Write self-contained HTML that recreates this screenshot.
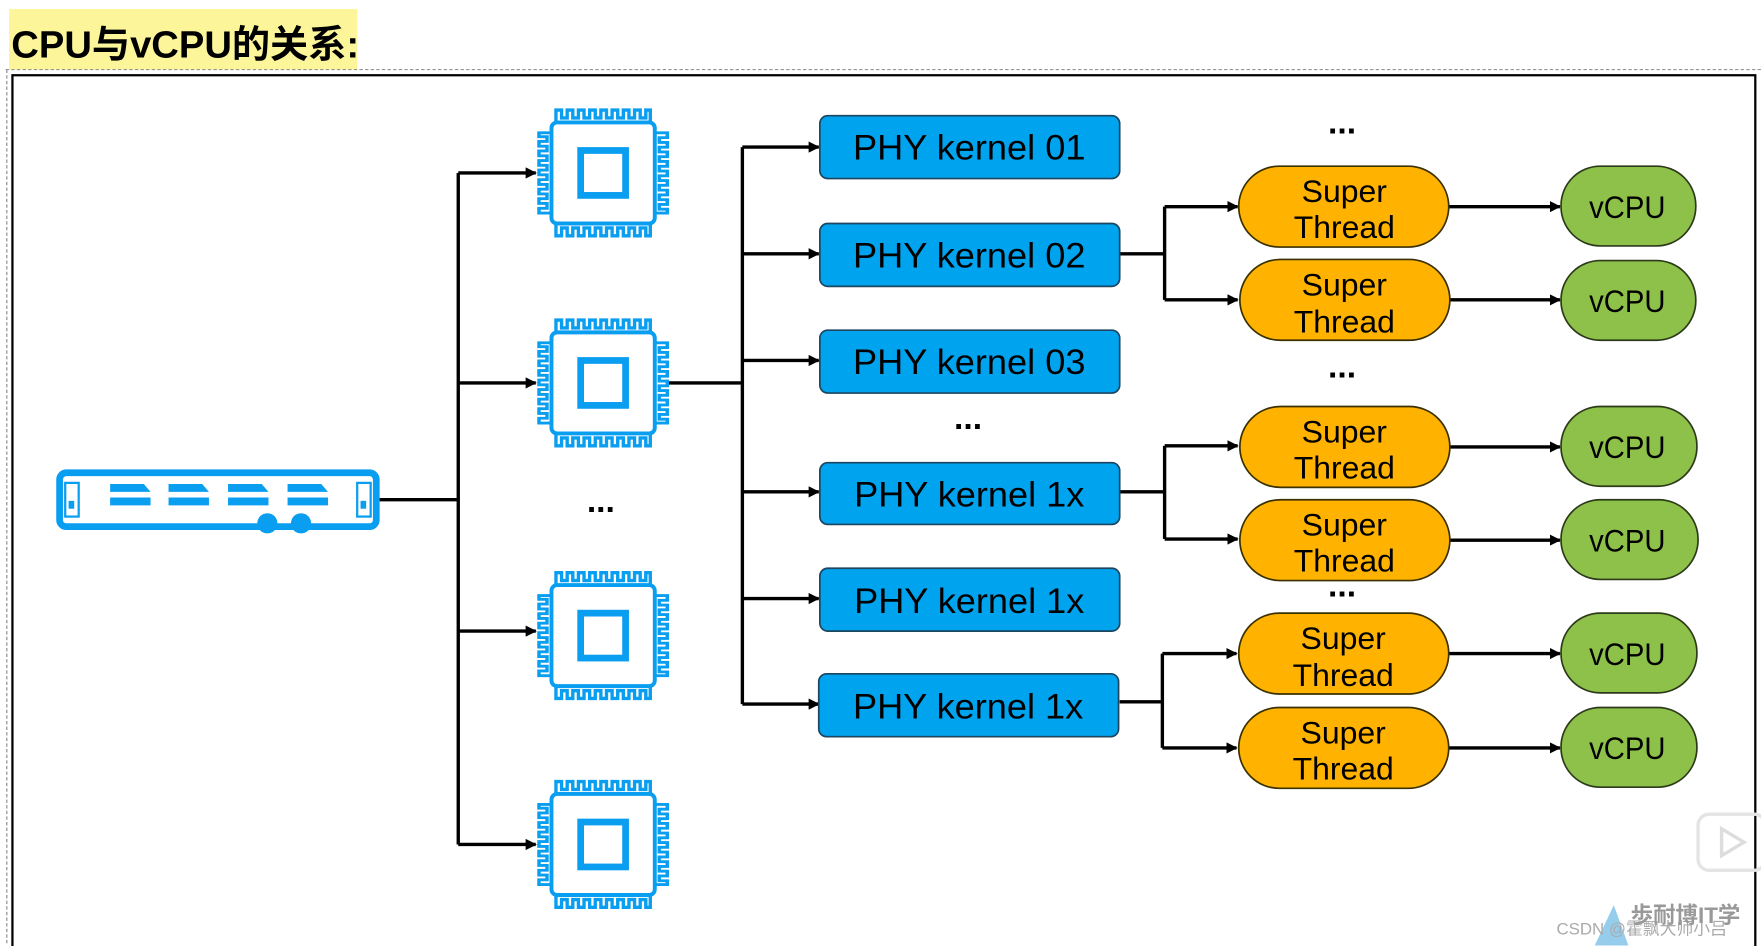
<!DOCTYPE html>
<html><head><meta charset="utf-8"><style>
html,body{margin:0;padding:0;background:#fff;width:1761px;height:946px;overflow:hidden}
svg{display:block}
text{font-family:"Liberation Sans","Noto Sans CJK SC",sans-serif}
</style></head><body>
<svg width="1761" height="946" viewBox="0 0 1568 842.4" xmlns="http://www.w3.org/2000/svg">
<defs>
<marker id="ar" markerWidth="10" markerHeight="10" refX="9" refY="5" orient="auto" markerUnits="userSpaceOnUse">
<path d="M0,0 L10,5 L0,10 z" fill="#000"/></marker>
<path id="comb" d="M-42 -45 V-56 H-37 V-49 H-32 V-56 H-27 V-49 H-22 V-56 H-17 V-49 H-12 V-56 H-7 V-49 H-2 V-56 H3 V-49 H8 V-56 H13 V-49 H18 V-56 H23 V-49 H28 V-56 H33 V-49 H38 V-56 H42 V-45" fill="none" stroke="#0a9ef0" stroke-width="3"/>
<g id="chip">
<rect x="-46" y="-45" width="92" height="90" rx="5" fill="none" stroke="#0a9ef0" stroke-width="3.5"/>
<use href="#comb"/>
<use href="#comb" transform="scale(1,-1)"/>
<use href="#comb" transform="rotate(90) scale(0.85,1.02)"/>
<use href="#comb" transform="rotate(-90) scale(0.85,1.02)"/>
<rect x="-20" y="-20" width="40" height="40" fill="none" stroke="#0a9ef0" stroke-width="6"/>
</g>
</defs>

<!-- title -->
<rect x="8" y="8" width="310" height="54" fill="#fdf59a"/>
<text x="10" y="51" font-size="34" font-weight="bold" fill="#000">CPU与vCPU的关系:</text>
<line x1="5" y1="62" x2="1568" y2="62" stroke="#888" stroke-width="1" stroke-dasharray="3,2"/>
<line x1="6" y1="62" x2="6" y2="842" stroke="#888" stroke-width="1" stroke-dasharray="3,2"/>
<rect x="11" y="67" width="1552" height="800" fill="none" stroke="#000" stroke-width="2"/>

<!-- server -->
<g>
<rect x="53" y="421" width="282" height="48" rx="6" fill="none" stroke="#0a9ef0" stroke-width="6"/>
<rect x="58" y="430" width="12" height="30" fill="none" stroke="#0a9ef0" stroke-width="2"/>
<rect x="318" y="430" width="12" height="30" fill="none" stroke="#0a9ef0" stroke-width="2"/>
<rect x="61" y="446" width="5" height="7" fill="#0a9ef0"/>
<rect x="321" y="446" width="5" height="7" fill="#0a9ef0"/>
<g fill="#0a9ef0">
<polygon points="98,431 128,431 134,438 98,438"/><polygon points="98,443 134,443 134,450 98,450"/>
<polygon points="150,431 180,431 186,438 150,438"/><polygon points="150,443 186,443 186,450 150,450"/>
<polygon points="203,431 233,431 239,438 203,438"/><polygon points="203,443 239,443 239,450 203,450"/>
<polygon points="256,431 286,431 292,438 256,438"/><polygon points="256,443 292,443 292,450 256,450"/>
<circle cx="238" cy="466" r="9"/><circle cx="268" cy="466" r="9"/>
</g>
</g>

<g stroke="#000" stroke-width="3" fill="none">
<line x1="338" y1="445" x2="408" y2="445"/>
<line x1="408" y1="154" x2="408" y2="752"/>
<line x1="408" y1="154" x2="477" y2="154" marker-end="url(#ar)"/>
<line x1="408" y1="341" x2="477" y2="341" marker-end="url(#ar)"/>
<line x1="408" y1="562" x2="477" y2="562" marker-end="url(#ar)"/>
<line x1="408" y1="752" x2="477" y2="752" marker-end="url(#ar)"/>
<line x1="595" y1="341" x2="661" y2="341"/>
<line x1="661" y1="131" x2="661" y2="627"/>
<line x1="661" y1="131" x2="729" y2="131" marker-end="url(#ar)"/>
<line x1="661" y1="226" x2="729" y2="226" marker-end="url(#ar)"/>
<line x1="661" y1="321" x2="729" y2="321" marker-end="url(#ar)"/>
<line x1="661" y1="438" x2="729" y2="438" marker-end="url(#ar)"/>
<line x1="661" y1="533" x2="729" y2="533" marker-end="url(#ar)"/>
<line x1="661" y1="627" x2="729" y2="627" marker-end="url(#ar)"/>
<line x1="997" y1="226" x2="1037" y2="226"/>
<line x1="1037" y1="184" x2="1037" y2="267"/>
<line x1="1037" y1="184" x2="1102" y2="184" marker-end="url(#ar)"/>
<line x1="1037" y1="267" x2="1102" y2="267" marker-end="url(#ar)"/>
<line x1="997" y1="438" x2="1037" y2="438"/>
<line x1="1037" y1="397" x2="1037" y2="480"/>
<line x1="1037" y1="397" x2="1102" y2="397" marker-end="url(#ar)"/>
<line x1="1037" y1="480" x2="1102" y2="480" marker-end="url(#ar)"/>
<line x1="997" y1="625" x2="1035" y2="625"/>
<line x1="1035" y1="582" x2="1035" y2="666"/>
<line x1="1035" y1="582" x2="1101" y2="582" marker-end="url(#ar)"/>
<line x1="1035" y1="666" x2="1101" y2="666" marker-end="url(#ar)"/>
<line x1="1290" y1="184" x2="1389" y2="184" marker-end="url(#ar)"/>
<line x1="1290" y1="267" x2="1389" y2="267" marker-end="url(#ar)"/>
<line x1="1290" y1="398" x2="1389" y2="398" marker-end="url(#ar)"/>
<line x1="1290" y1="481" x2="1389" y2="481" marker-end="url(#ar)"/>
<line x1="1290" y1="582" x2="1389" y2="582" marker-end="url(#ar)"/>
<line x1="1290" y1="666" x2="1389" y2="666" marker-end="url(#ar)"/>
</g>

<use href="#chip" transform="translate(537,154)"/>
<use href="#chip" transform="translate(537,341)"/>
<use href="#chip" transform="translate(537,566)"/>
<use href="#chip" transform="translate(537,752)"/>

<g font-size="30" fill="#000" text-anchor="middle" font-weight="bold">
<text x="535" y="456">...</text>
<text x="862" y="382">...</text>
<text x="1195" y="119">...</text>
<text x="1195" y="336">...</text>
<text x="1195" y="531">...</text>
</g>

<g fill="#00a3ee" stroke="#1c4560" stroke-width="1.5">
<rect x="730" y="103" width="267" height="56" rx="7"/>
<rect x="730" y="199" width="267" height="56" rx="7"/>
<rect x="730" y="294" width="267" height="56" rx="7"/>
<rect x="730" y="412" width="267" height="55" rx="7"/>
<rect x="730" y="506" width="267" height="56" rx="7"/>
<rect x="729" y="600" width="267" height="56" rx="7"/>
</g>
<g font-size="31" fill="#000" text-anchor="middle">
<text x="863" y="142" textLength="207" lengthAdjust="spacingAndGlyphs">PHY kernel 01</text>
<text x="863" y="238" textLength="207" lengthAdjust="spacingAndGlyphs">PHY kernel 02</text>
<text x="863" y="333" textLength="207" lengthAdjust="spacingAndGlyphs">PHY kernel 03</text>
<text x="863" y="451" textLength="205" lengthAdjust="spacingAndGlyphs">PHY kernel 1x</text>
<text x="863" y="546" textLength="205" lengthAdjust="spacingAndGlyphs">PHY kernel 1x</text>
<text x="862" y="640" textLength="205" lengthAdjust="spacingAndGlyphs">PHY kernel 1x</text>
</g>

<g fill="#ffb300" stroke="#3a3000" stroke-width="1.5">
<rect x="1103" y="148" width="187" height="72" rx="36"/>
<rect x="1104" y="231" width="187" height="72" rx="36"/>
<rect x="1104" y="362" width="187" height="72" rx="36"/>
<rect x="1104" y="445" width="187" height="72" rx="36"/>
<rect x="1103" y="546" width="187" height="72" rx="36"/>
<rect x="1103" y="630" width="187" height="72" rx="36"/>
</g>
<g font-size="28" fill="#000" text-anchor="middle">
<text x="1197" y="180" textLength="76" lengthAdjust="spacingAndGlyphs">Super</text><text x="1197" y="212" textLength="90" lengthAdjust="spacingAndGlyphs">Thread</text>
<text x="1197" y="263" textLength="76" lengthAdjust="spacingAndGlyphs">Super</text><text x="1197" y="296" textLength="90" lengthAdjust="spacingAndGlyphs">Thread</text>
<text x="1197" y="394" textLength="76" lengthAdjust="spacingAndGlyphs">Super</text><text x="1197" y="426" textLength="90" lengthAdjust="spacingAndGlyphs">Thread</text>
<text x="1197" y="477" textLength="76" lengthAdjust="spacingAndGlyphs">Super</text><text x="1197" y="509" textLength="90" lengthAdjust="spacingAndGlyphs">Thread</text>
<text x="1196" y="578" textLength="76" lengthAdjust="spacingAndGlyphs">Super</text><text x="1196" y="611" textLength="90" lengthAdjust="spacingAndGlyphs">Thread</text>
<text x="1196" y="662" textLength="76" lengthAdjust="spacingAndGlyphs">Super</text><text x="1196" y="694" textLength="90" lengthAdjust="spacingAndGlyphs">Thread</text>
</g>

<g fill="#8dc14a" stroke="#2d3a1a" stroke-width="1.5">
<rect x="1390" y="148" width="120" height="71" rx="35"/>
<rect x="1390" y="232" width="120" height="71" rx="35"/>
<rect x="1390" y="362" width="121" height="71" rx="35"/>
<rect x="1390" y="445" width="122" height="71" rx="35"/>
<rect x="1390" y="546" width="121" height="71" rx="35"/>
<rect x="1390" y="630" width="121" height="71" rx="35"/>
</g>
<g font-size="28" fill="#000" text-anchor="middle">
<text x="1449" y="194" textLength="68" lengthAdjust="spacingAndGlyphs">vCPU</text>
<text x="1449" y="278" textLength="68" lengthAdjust="spacingAndGlyphs">vCPU</text>
<text x="1449" y="408" textLength="68" lengthAdjust="spacingAndGlyphs">vCPU</text>
<text x="1449" y="491" textLength="68" lengthAdjust="spacingAndGlyphs">vCPU</text>
<text x="1449" y="592" textLength="68" lengthAdjust="spacingAndGlyphs">vCPU</text>
<text x="1449" y="676" textLength="68" lengthAdjust="spacingAndGlyphs">vCPU</text>
</g>

<rect x="1512" y="725" width="60" height="50" rx="10" fill="none" stroke="#e4e4e4" stroke-width="3"/>
<path d="M1533 738 L1553 750 L1533 762 z" fill="none" stroke="#ddd" stroke-width="3"/>
<polygon points="1420,842 1437,806 1450,842" fill="#7cc0e8" opacity="0.8"/>
<text x="1386" y="832" font-size="15" fill="#aaa">CSDN @霍飘大师小吕</text>
<text x="1452" y="822" font-size="20" fill="#999" font-weight="bold">歩耐博IT学</text>
</svg>
</body></html>
